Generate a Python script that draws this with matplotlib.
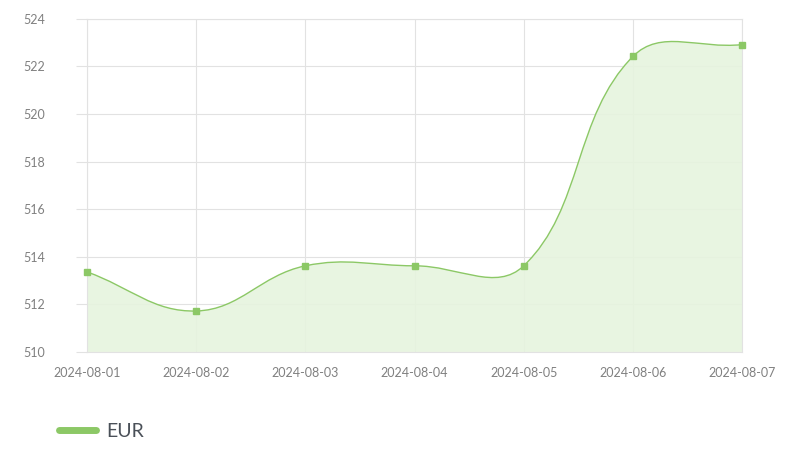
import numpy as np
import matplotlib
matplotlib.use("Agg")
import matplotlib.pyplot as plt
from matplotlib.path import Path
from matplotlib.patches import PathPatch
from matplotlib.lines import Line2D

## Data
dates = ["2024-08-01", "2024-08-02", "2024-08-03", "2024-08-04",
         "2024-08-05", "2024-08-06", "2024-08-07"]
eur = [513.36, 511.72, 513.62, 513.62, 513.62, 522.42, 522.92]
y_ticks = [510, 512, 514, 516, 518, 520, 522, 524]

line_col = "#8cc866"
fill_col = "#e6f4de"
grid_col = "#e2e2e2"
text_col = "#808080"

plt.rcParams["font.family"] = ["Lato", "DejaVu Sans"]

fig = plt.figure(figsize=(8, 4.5), dpi=100)
ax = fig.add_axes([0.109, 0.218, 0.8185, 0.74])
xs = np.arange(len(dates))
ax.set_xlim(0, len(dates) - 1)
ax.set_ylim(510, 524)

## Smooth curve like Chart.js (tension 0.4), computed in pixel space
fig.canvas.draw()
pts = ax.transData.transform(np.column_stack([xs, eur]))
tension = 0.4
verts = [pts[0]]
codes = [Path.MOVETO]
ctrl = []
for i in range(len(pts)):
    prev = pts[max(i - 1, 0)]
    cur = pts[i]
    nxt = pts[min(i + 1, len(pts) - 1)]
    d01 = np.hypot(*(cur - prev))
    d12 = np.hypot(*(nxt - cur))
    tot = d01 + d12 if d01 + d12 > 0 else 1
    fa = tension * d01 / tot
    fb = tension * d12 / tot
    ctrl.append((cur - fa * (nxt - prev), cur + fb * (nxt - prev)))
for i in range(len(pts) - 1):
    verts += [ctrl[i][1], ctrl[i + 1][0], pts[i + 1]]
    codes += [Path.CURVE4] * 3
inv = ax.transData.inverted()
dverts = inv.transform(np.array(verts))

line_path = Path(dverts, codes)
fill_verts = np.vstack([dverts, [[xs[-1], 510], [xs[0], 510], dverts[0]]])
fill_codes = codes + [Path.LINETO, Path.LINETO, Path.CLOSEPOLY]
ax.add_patch(PathPatch(Path(fill_verts, fill_codes), facecolor=fill_col,
                       edgecolor="none", alpha=0.9, zorder=1))
ax.add_patch(PathPatch(line_path, facecolor="none", edgecolor=line_col,
                       linewidth=1.0, zorder=3))
ax.plot(xs, eur, linestyle="none", marker="s", markersize=4.5,
        color=line_col, zorder=4, clip_on=False)

## Axes styling
ax.set_xticks(xs)
ax.set_xticklabels(dates)
ax.set_yticks(y_ticks)
ax.grid(True, color=grid_col, linewidth=0.8, zorder=0)
ax.set_axisbelow(True)
for s in ax.spines.values():
    s.set_color(grid_col)
    s.set_linewidth(0.8)
ax.tick_params(axis="both", colors=grid_col, labelcolor=text_col,
               labelsize=9, width=0.8)
ax.tick_params(axis="x", length=0, pad=11)
ax.tick_params(axis="y", length=8, pad=22)

## Legend
handle = Line2D([0], [0], color=line_col, linewidth=5, solid_capstyle="round")
fig.legend([handle], ["EUR"], loc="center left",
           bbox_to_anchor=(0.052, 0.042), frameon=False, fontsize=14,
           handlelength=1.9, handletextpad=0.5, labelcolor="#4a5058")

fig.savefig("out.png", dpi=100)
